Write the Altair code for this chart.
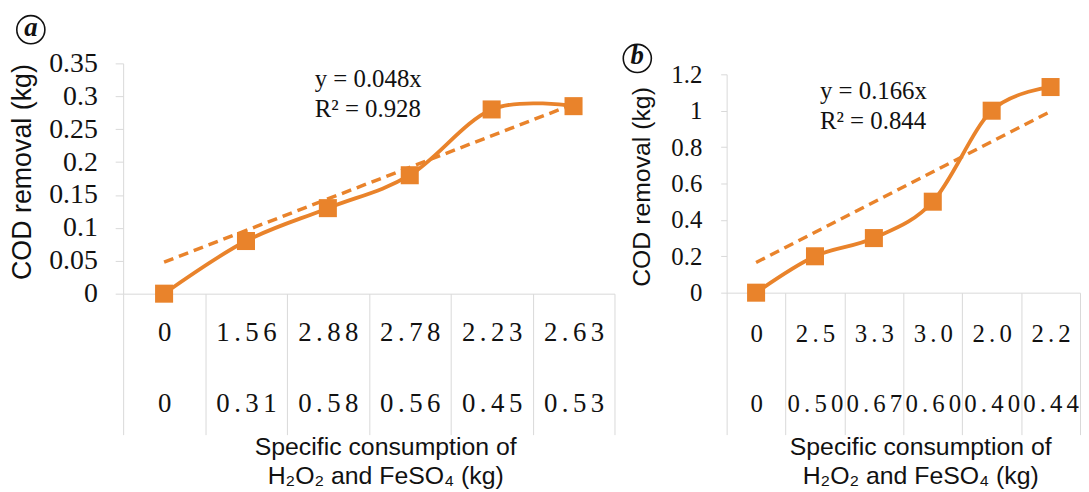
import altair as alt
import pandas as pd

# ---------------- data ----------------
# panel a
h2o2_a = ["0", "1.56", "2.88", "2.78", "2.23", "2.63"]
feso4_a = ["0", "0.31", "0.58", "0.56", "0.45", "0.53"]
cod_a = [0, 0.08, 0.13, 0.18, 0.28, 0.285]
slope_a = 0.048
r2_a = 0.928
yticks_a = [0, 0.05, 0.1, 0.15, 0.2, 0.25, 0.3, 0.35]

# panel b
h2o2_b = ["0", "2.5", "3.3", "3.0", "2.0", "2.2"]
feso4_b = ["0", "0.50", "0.67", "0.60", "0.40", "0.44"]
cod_b = [0, 0.2, 0.3, 0.5, 1.0, 1.13]
slope_b = 0.166
r2_b = 0.844
yticks_b = [0, 0.2, 0.4, 0.6, 0.8, 1.0, 1.2]

X_TITLE = ["Specific consumption of", "H\u2082O\u2082 and FeSO\u2084 (kg)"]
Y_TITLE = "COD removal (kg)"

# ---------------- style ----------------
ORANGE = "#E9832B"
GRID = "#D9D9D9"
TXT = "#111111"
SERIF = "Liberation Serif"
SANS = "Liberation Sans"
SP = "\u2006"


def spaced(s):
    return SP.join(s)


def panel(h2o2, feso4, cod, slope, r2, yticks, letter, *, width, height, ymax,
          yrange, xfs, xlh, xlp, xtick, xtitle_x, yfs, ylp, ytick, ytfs, ytp,
          ytitle_y, ann_xy, let_xy):
    keys = [f"{spaced(a)}|{spaced(b)}" for a, b in zip(h2o2, feso4)]
    df = pd.DataFrame({"key": keys, "cod": cod})
    n = len(keys)
    trend = pd.DataFrame({"key": [keys[0], keys[-1]], "cod": [slope * 1, slope * n]})

    yscale_kw = dict(domain=[0, ymax], nice=False, zero=True)
    if yrange is not None:
        yscale_kw["range"] = yrange

    x_enc = alt.X(
        "key:N",
        sort=keys,
        scale=alt.Scale(type="band", domain=keys, paddingInner=0, paddingOuter=0),
        axis=alt.Axis(
            title=X_TITLE,
            labelExpr="split(datum.label, '|')",
            labelAngle=0,
            labelFont=SERIF,
            labelFontSize=xfs,
            labelLineHeight=xlh,
            labelPadding=xlp,
            labelColor=TXT,
            labelOverlap=False,
            labelFlush=False,
            labelBaseline="top",
            tickBand="extent",
            tickSize=xtick,
            tickColor=GRID,
            tickWidth=1,
            domainColor=GRID,
            domainWidth=1,
            grid=False,
            titleFont=SANS,
            titleFontSize=25,
            titleFontWeight="normal",
            titleLineHeight=29,
            titlePadding=0,
            titleX=xtitle_x,
            titleColor=TXT,
        ),
    )
    y_enc = alt.Y(
        "cod:Q",
        scale=alt.Scale(**yscale_kw),
        axis=alt.Axis(
            values=yticks,
            format="~g",
            title=Y_TITLE,
            grid=False,
            tickSize=ytick,
            tickColor=GRID,
            tickWidth=1,
            domainColor=GRID,
            domainWidth=1,
            labelFont=SERIF,
            labelFontSize=yfs,
            labelPadding=ylp,
            labelColor=TXT,
            labelOverlap=False,
            labelFlush=False,
            titleFont=SANS,
            titleFontSize=ytfs,
            titleFontWeight="normal",
            titlePadding=ytp,
            titleY=ytitle_y,
            titleColor=TXT,
        ),
    )

    trend_layer = alt.Chart(trend).mark_line(
        color=ORANGE, strokeWidth=3.5, strokeDash=[10, 6]
    ).encode(x=x_enc, y=y_enc)

    line_layer = alt.Chart(df).mark_line(
        color=ORANGE, strokeWidth=3.8, interpolate="cardinal"
    ).encode(x=x_enc, y=y_enc)

    pts_layer = alt.Chart(df).mark_point(
        shape="square", filled=True, size=330, color=ORANGE, opacity=1
    ).encode(x=x_enc, y=y_enc)

    ann = pd.DataFrame({"t": [f"y = {slope}x\nR\u00b2 = {r2}"]})
    ann_layer = alt.Chart(ann).mark_text(
        align="left", baseline="alphabetic", lineBreak="\n", lineHeight=30,
        font=SERIF, fontSize=25, color=TXT
    ).encode(x=alt.value(ann_xy[0]), y=alt.value(ann_xy[1]), text="t:N")

    let_df = pd.DataFrame({"t": [letter]})
    circ_layer = alt.Chart(let_df).mark_point(
        shape="circle", filled=False, stroke=TXT, strokeWidth=1.6, size=800, opacity=1
    ).encode(x=alt.value(let_xy[0]), y=alt.value(let_xy[1]))
    let_layer = alt.Chart(let_df).mark_text(
        font=SERIF, fontSize=27, fontStyle="italic", fontWeight="bold",
        align="center", baseline="middle", dy=-2, color=TXT
    ).encode(x=alt.value(let_xy[0]), y=alt.value(let_xy[1]), text="t:N")

    return alt.layer(
        trend_layer, line_layer, pts_layer, ann_layer, circ_layer, let_layer
    ).properties(width=width, height=height)


pa = panel(
    h2o2_a, feso4_a, cod_a, slope_a, r2_a, yticks_a, "a",
    width=495, height=232, ymax=0.35, yrange=None,
    xfs=27, xlh=72, xlp=-116, xtick=142, xtitle_x=264,
    yfs=28, ylp=18, ytick=8, ytfs=27, ytp=12, ytitle_y=109,
    ann_xy=(193, 24), let_xy=(-93, -34),
)

pb = panel(
    h2o2_b, feso4_b, cod_b, slope_b, r2_b, yticks_b, "b",
    width=356, height=231, ymax=1.2, yrange=[231, 11],
    xfs=25, xlh=71, xlp=-114, xtick=143, xtitle_x=195,
    yfs=25, ylp=19, ytick=6, ytfs=25, ytp=16, ytitle_y=124,
    ann_xy=(94, 36), let_xy=(-90, -5),
)

chart = alt.hconcat(pa, pb, spacing=113, bounds="flush").properties(
    padding={"left": 0, "top": 2, "right": 0, "bottom": 0},
    background="white",
).configure_view(stroke="transparent")

chart.save("out.html", embed_options={"renderer": "svg", "actions": False})
